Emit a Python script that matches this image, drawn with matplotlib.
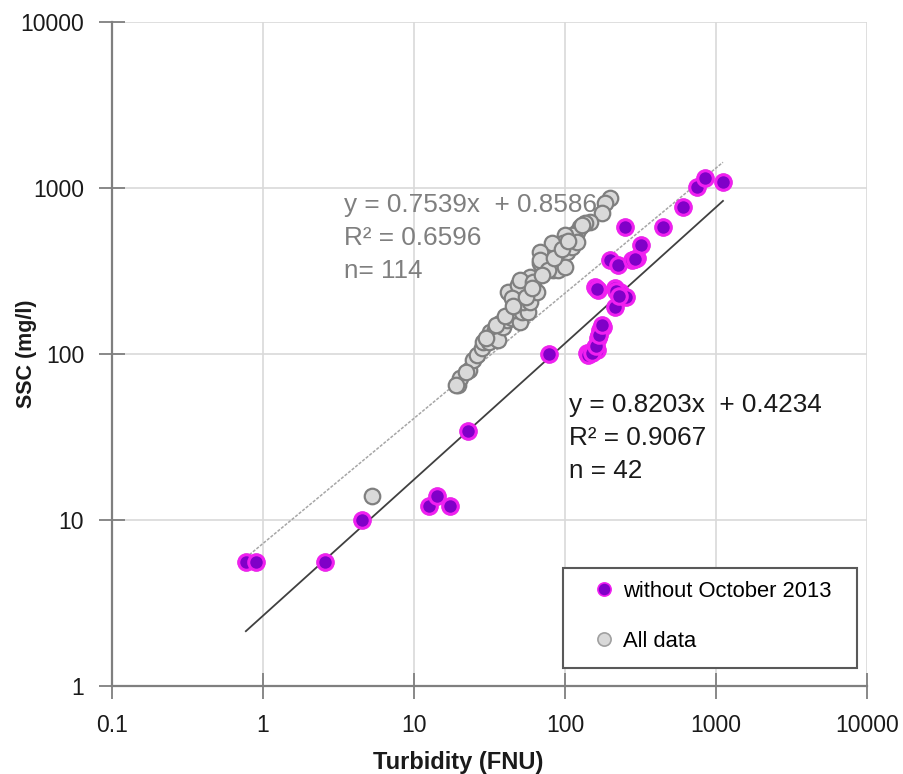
import numpy as np
import matplotlib
matplotlib.use("Agg")
import matplotlib.pyplot as plt
from matplotlib.lines import Line2D
from matplotlib.patches import Rectangle

plt.rcParams['font.family'] = ['Liberation Sans', 'DejaVu Sans']

# Turbidity (FNU) and SSC (mg/l) for samples outside October 2013
turb_wo_oct = [0.77, 0.90, 2.57, 4.5, 12.6, 14.2, 17.3, 22.8, 78, 140, 146, 158, 163,
               166, 170, 178, 214, 158, 166, 214, 231, 254, 199, 224, 278, 300, 319,
               250, 446, 604, 748, 846, 1112,
               143, 152, 160, 168, 175, 162, 218, 228, 290]
ssc_wo_oct = [5.6, 5.6, 5.6, 10, 12.1, 14.0, 12.1, 34.4, 100, 101, 102, 110, 106,
              125, 140, 146, 192, 253, 243, 250, 236, 220, 368, 344, 368, 379, 454,
              582, 582, 769, 1014, 1148, 1087,
              98, 101, 112, 130, 150, 245, 240, 225, 372]

# Remaining October 2013 samples (together with the above they form "All data")
turb_oct = [5.25, 19.6, 20.2, 23.1, 24.6, 26.1, 28.2, 28.6, 31.4, 31.9, 34.4, 36.0,
            37.1, 38.8, 41.3, 44.6, 50.3, 46.7, 51.9, 56.9, 48.1, 52.7, 58.6, 42.0,
            50.3, 56.9, 65.3, 51.9, 58.6, 48.9, 44.6, 76.0, 68.2, 83.3,
            199, 184, 176, 146, 136, 126, 120, 116, 111, 100, 97, 89.9, 82, 79.6,
            68.2, 68.2, 103, 111, 89.9, 77.1, 100, 58.6, 50.3, 61.4, 120,
            19.0, 22, 30, 35, 40, 45, 55, 60, 70, 85, 95, 105, 130]
ssc_oct = [14.0, 65, 72, 80, 92, 99, 109, 118, 118, 136, 140, 121,
           154, 146, 160, 165, 156, 184, 179, 179, 206, 206, 206, 236,
           236, 233, 236, 271, 287, 261, 217, 334, 353, 321,
           871, 813, 707, 624, 615, 582, 543, 500, 521, 521, 467, 411, 467, 368,
           411, 368, 411, 441, 321, 321, 334, 291, 279, 271, 473,
           65, 78, 125, 150, 170, 195, 220, 250, 300, 380, 430, 480, 600]

turb_all = turb_oct + turb_wo_oct
ssc_all = ssc_oct + ssc_wo_oct

# Power-law fits (log10 y = a log10 x + b)
fit_all = (0.7539, 0.8586)
fit_wo = (0.8203, 0.4234)

x_ticks = [0.1, 1, 10, 100, 1000, 10000]
x_labels = ['0.1', '1', '10', '100', '1000', '10000']
y_ticks = [1, 10, 100, 1000, 10000]
y_labels = ['1', '10', '100', '1000', '10000']

fig = plt.figure(figsize=(9.04, 7.74), dpi=100)
ax = fig.add_axes([112 / 904, 1 - 686 / 774, (867 - 112) / 904, (686 - 22) / 774])
ax.set_xscale('log')
ax.set_yscale('log')
ax.set_xlim(0.1, 10000)
ax.set_ylim(1, 10000)

ax.set_xticks(x_ticks)
ax.set_xticklabels(x_labels)
ax.set_yticks(y_ticks)
ax.set_yticklabels(y_labels)
ax.minorticks_off()
ax.grid(True, color='#d9d9d9', linewidth=1.2)
ax.set_axisbelow(True)

for side in ['top', 'right']:
    ax.spines[side].set_visible(False)
for side in ['left', 'bottom']:
    ax.spines[side].set_color('#7f7f7f')
    ax.spines[side].set_linewidth(1.6)
ax.tick_params(axis='both', which='major', direction='inout', length=19,
               width=1.3, color='#7f7f7f', labelsize=16.5, labelcolor='#1a1a1a')
ax.tick_params(axis='y', pad=10.5)
ax.tick_params(axis='x', pad=11)

# Trend lines over the range of the data
xs = np.logspace(np.log10(min(turb_all)), np.log10(max(turb_all)), 100)
ax.plot(xs, 10 ** (fit_all[0] * np.log10(xs) + fit_all[1]), color='#a6a6a6',
        linewidth=1.1, linestyle=(0, (2, 1)), zorder=2)
xs2 = np.logspace(np.log10(min(turb_wo_oct)), np.log10(max(turb_wo_oct)), 100)
ax.plot(xs2, 10 ** (fit_wo[0] * np.log10(xs2) + fit_wo[1]), color='#404040',
        linewidth=1.3, zorder=2)

ax.scatter(turb_all, ssc_all, s=125, facecolor='#d9d9d9', edgecolor='#7f7f7f',
           linewidth=1.6, zorder=3)
ax.scatter(turb_wo_oct, ssc_wo_oct, s=125, facecolor='#8000c8', edgecolor='#f020f0',
           linewidth=2.2, zorder=4)

ax.text(0.307, 0.743, 'y = 0.7539x  + 0.8586\nR² = 0.6596\nn= 114',
        transform=ax.transAxes, color='#7f7f7f', fontsize=18.8, va='top',
        ha='left', linespacing=1.47)
ax.text(0.605, 0.441, 'y = 0.8203x  + 0.4234\nR² = 0.9067\nn = 42',
        transform=ax.transAxes, color='#1a1a1a', fontsize=18.8, va='top',
        ha='left', linespacing=1.47)

ax.set_xlabel('Turbidity (FNU)', fontsize=17, fontweight='bold', color='#1a1a1a')
ax.set_ylabel('SSC (mg/l)', fontsize=15.5, fontweight='bold', color='#1a1a1a')
ax.xaxis.set_label_coords(0.458, -0.098)
ax.yaxis.set_label_coords(-0.099, 0.5)

# Legend box
ax.add_patch(Rectangle((0.5974, 0.0271), 0.3894, 0.1506, transform=ax.transAxes,
                       facecolor='white', edgecolor='#595959', linewidth=1.5,
                       zorder=6))
handles = [
    Line2D([], [], linestyle='none', marker='o', markersize=9.5,
           markerfacecolor='#8000c8', markeredgecolor='#f020f0', markeredgewidth=1.2),
    Line2D([], [], linestyle='none', marker='o', markersize=9.5,
           markerfacecolor='#d9d9d9', markeredgecolor='#a0a0a0', markeredgewidth=1.2),
]
leg = ax.legend(handles, ['without October 2013', 'All data'], loc='upper left',
                bbox_to_anchor=((593 - 112) / 755, (686 - 581) / 664), fontsize=15.8,
                frameon=False, handletextpad=0.37, handlelength=1.0, borderpad=0,
                labelspacing=1.3, borderaxespad=0)
leg.set_zorder(7)

fig.savefig('out.png', dpi=100)
